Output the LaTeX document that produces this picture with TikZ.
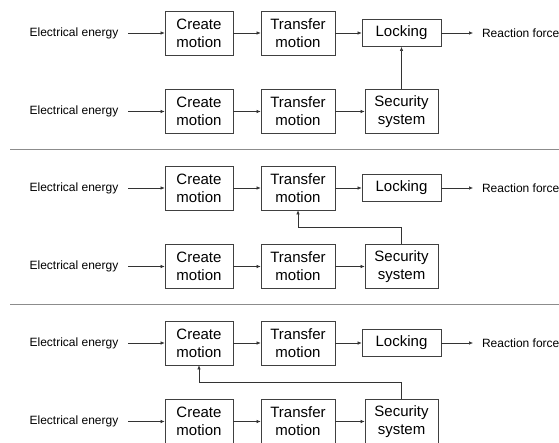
\documentclass[tikz,border=0pt]{standalone}
\usepackage{fontspec}
\setmainfont{Liberation Sans}
\usetikzlibrary{arrows.meta}

\tikzset{
  block/.style={draw=black!75, line width=0.7pt, align=center, inner sep=0pt,
    minimum height=44pt, font=\fontsize{15}{18}\selectfont},
  sig/.style={inner sep=0pt, outer sep=10pt, font=\fontsize{12}{14}\selectfont},
  flow/.style={-{Latex[length=4pt,width=3.5pt]}, line width=0.6pt, black!80},
  divider/.style={line width=0.8pt, black!45}
}

\begin{document}
\begin{tikzpicture}[x=1pt, y=-1pt]
            \clip (0,0) rectangle (559,442);

            % first variant
            \node[sig] (E1a) at (74,33) {Electrical energy};
            \node[block, minimum width=68pt] (C1a) at (199,33) {Create\\motion};
            \node[block, minimum width=74pt] (T1a) at (298,33) {Transfer\\motion};
            \node[block, minimum width=79pt, minimum height=27pt] (L1) at (401.5,33) {Locking};
            \node[sig, anchor=west, outer sep=0pt] (R1) at (482,33) {Reaction force};
            \node[sig] (E1b) at (74,111.5) {Electrical energy};
            \node[block, minimum width=68pt] (C1b) at (199,111.5) {Create\\motion};
            \node[block, minimum width=74pt] (T1b) at (298,111.5) {Transfer\\motion};
            \node[block, minimum width=73pt] (S1) at (401.5,111.5) {Security\\system};

            \draw[flow] (E1a) -- (C1a);
            \draw[flow] (C1a) -- (T1a);
            \draw[flow] (T1a) -- (L1);
            \draw[flow] (L1) -- ([xshift=-9pt]R1.west);
            \draw[flow] (E1b) -- (C1b);
            \draw[flow] (C1b) -- (T1b);
            \draw[flow] (T1b) -- (S1);
            \draw[flow] (S1) -- (L1);

            \draw[divider] (10,149) -- (559,149);

            % second variant
            \node[sig] (E2a) at (74,188) {Electrical energy};
            \node[block, minimum width=68pt] (C2a) at (199,188) {Create\\motion};
            \node[block, minimum width=74pt] (T2a) at (298,188) {Transfer\\motion};
            \node[block, minimum width=79pt, minimum height=27pt] (L2) at (401.5,188) {Locking};
            \node[sig, anchor=west, outer sep=0pt] (R2) at (482,188) {Reaction force};
            \node[sig] (E2b) at (74,266.5) {Electrical energy};
            \node[block, minimum width=68pt] (C2b) at (199,266.5) {Create\\motion};
            \node[block, minimum width=74pt] (T2b) at (298,266.5) {Transfer\\motion};
            \node[block, minimum width=73pt] (S2) at (401.5,266.5) {Security\\system};

            \draw[flow] (E2a) -- (C2a);
            \draw[flow] (C2a) -- (T2a);
            \draw[flow] (T2a) -- (L2);
            \draw[flow] (L2) -- ([xshift=-9pt]R2.west);
            \draw[flow] (E2b) -- (C2b);
            \draw[flow] (C2b) -- (T2b);
            \draw[flow] (T2b) -- (S2);
            \draw[flow] (S2.north) -- ++(0,-17) -| (T2a.south);

            \draw[divider] (10,304) -- (559,304);

            % third variant
            \node[sig] (E3a) at (74,343) {Electrical energy};
            \node[block, minimum width=68pt] (C3a) at (199,343) {Create\\motion};
            \node[block, minimum width=74pt] (T3a) at (298,343) {Transfer\\motion};
            \node[block, minimum width=79pt, minimum height=27pt] (L3) at (401.5,343) {Locking};
            \node[sig, anchor=west, outer sep=0pt] (R3) at (482,343) {Reaction force};
            \node[sig] (E3b) at (74,421.5) {Electrical energy};
            \node[block, minimum width=68pt] (C3b) at (199,421.5) {Create\\motion};
            \node[block, minimum width=74pt] (T3b) at (298,421.5) {Transfer\\motion};
            \node[block, minimum width=73pt] (S3) at (401.5,421.5) {Security\\system};

            \draw[flow] (E3a) -- (C3a);
            \draw[flow] (C3a) -- (T3a);
            \draw[flow] (T3a) -- (L3);
            \draw[flow] (L3) -- ([xshift=-9pt]R3.west);
            \draw[flow] (E3b) -- (C3b);
            \draw[flow] (C3b) -- (T3b);
            \draw[flow] (T3b) -- (S3);
            \draw[flow] (S3.north) -- ++(0,-17) -| (C3a.south);
\end{tikzpicture}
\end{document}
